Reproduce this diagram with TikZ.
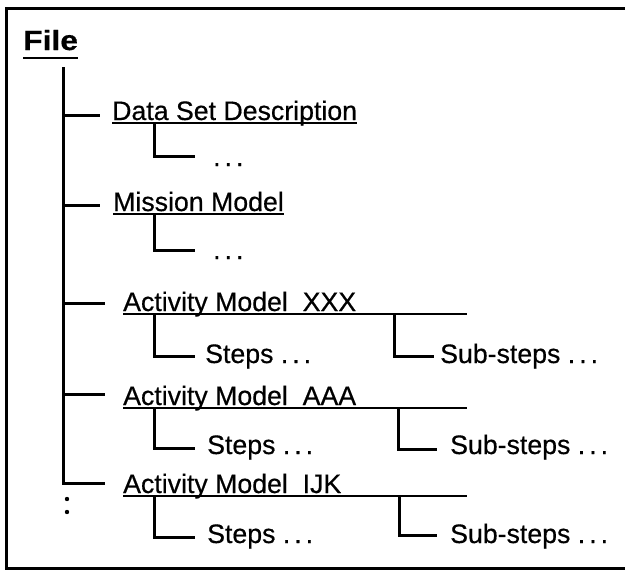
\documentclass[tikz,border=0pt]{standalone}
\usepackage{graphicx}
\usepackage{fontspec}
\setmainfont{Liberation Sans}[FakeBold=0.5]
\newcommand{\dotsx}{.\hspace{4pt}.\hspace{4pt}.}
\begin{document}
\begin{tikzpicture}[x=1pt,y=-1pt,
  lbl/.style={anchor=base west, inner sep=0pt, font=\fontsize{26.7}{30}\selectfont},
  tree/.style={line width=3pt},
  uline/.style={line width=2pt},
  frame/.style={line width=3pt}]
\useasboundingbox (0,0) rectangle (625,571);
% frame (right side runs off the page)
\draw[frame] (625,8) -- (6,8) -- (6,568) -- (625,568);

% title
\node[lbl, font=\bfseries\fontsize{26.5}{30}\selectfont] (file) at (23,50) {\scalebox{1.2}[1.05]{File}};
\draw[line width=2.5pt] ([yshift=-8pt]file.base west) -- ([yshift=-8pt]file.base east);

% first level items
\node[lbl] (ds)  at (112,120) {Data Set Description};
\node[lbl] (mm)  at (113,211) {Mission Model};
\node[lbl] (xxx) at (123,311) {Activity Model\ \ XXX};
\node[lbl] (aaa) at (123,405) {Activity Model\ \ AAA};
\node[lbl] (ijk) at (123,493) {Activity Model\ \ IJK};

% underlines
\draw[uline] ([yshift=-3pt]ds.base west) -- ([yshift=-3pt]ds.base east);
\draw[uline] ([yshift=-3pt]mm.base west) -- ([yshift=-3pt]mm.base east);
\coordinate (uend) at (467,0);
\path ([yshift=-3pt]xxx.base west) coordinate (ux);
\path ([yshift=-3pt]aaa.base west) coordinate (ua);
\path ([yshift=-3pt]ijk.base west) coordinate (ui);
\draw[uline] (ux) -- (ux -| uend);
\draw[uline] (ua) -- (ua -| uend);
\draw[uline] (ui) -- (ui -| uend);

% trunk and branches
\coordinate (ttop) at (63,67);
\coordinate (b1) at (100,115);
\coordinate (b2) at (100,205);
\coordinate (b3) at (105,303);
\coordinate (b4) at (105,394);
\coordinate (b5) at (105,483);
\draw[tree] (ttop) |- (b5);
\draw[tree] (ttop |- b1) -- (b1);
\draw[tree] (ttop |- b2) -- (b2);
\draw[tree] (ttop |- b3) -- (b3);
\draw[tree] (ttop |- b4) -- (b4);
\fill (67,499) circle (2.2pt);
\fill (67,512) circle (2.2pt);

% second level
\node[lbl] (dsd) at (213,166) {\dotsx};
\node[lbl] (mmd) at (213,259) {\dotsx};
\node[lbl] (xs)  at (205,363) {Steps \dotsx};
\node[lbl] (xss) at (440,363) {Sub-steps \dotsx};
\node[lbl] (as)  at (207,454) {Steps \dotsx};
\node[lbl] (ass) at (450,454) {Sub-steps \dotsx};
\node[lbl] (is)  at (207,543) {Steps \dotsx};
\node[lbl] (iss) at (450,543) {Sub-steps \dotsx};

\draw[tree] (154,123) |- (195,156);
\draw[tree] (154,214) |- (195,250);
\draw[tree] (154,315) |- (195,356);
\draw[tree] (394,314) |- (434,356);
\draw[tree] (154,409) |- (195,448);
\draw[tree] (398,408) |- (437,449);
\draw[tree] (154,497) |- (195,537);
\draw[tree] (399,496) |- (437,535);
\end{tikzpicture}
\end{document}
